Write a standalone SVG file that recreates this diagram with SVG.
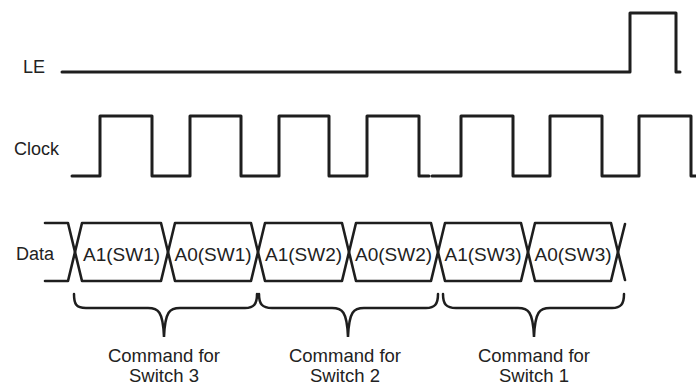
<svg xmlns="http://www.w3.org/2000/svg" width="696" height="385" viewBox="0 0 696 385">
<style>
.sig{fill:none;stroke:#1e1e1e;stroke-width:3;stroke-linejoin:round;stroke-linecap:round}
.dat{fill:none;stroke:#1e1e1e;stroke-width:2.6;stroke-linejoin:round;stroke-linecap:round}
.br{fill:none;stroke:#1e1e1e;stroke-width:2.5;stroke-linecap:round}
text{font-family:"Liberation Sans",Arial,sans-serif;fill:#222}
.lbl{font-size:18px}
.cell{font-size:19px;text-anchor:middle}
.cmd{font-size:18.5px;text-anchor:middle}
</style>
<rect width="696" height="385" fill="#fff"/>
<g id="le">
<text class="lbl" x="23" y="73">LE</text>
<path class="sig" d="M62,72 L630,72 L630,13 L676,13 L676,72 L680,72"/>
</g>
<g id="clock">
<text class="lbl" x="14" y="155">Clock</text>
<path class="sig" d="M72,176 L100,176 L100,116 L152,116 L152,176 L190,176 L190,116 L241,116 L241,176 L279,176 L279,116 L329,116 L329,176 L367,176 L367,116 L419,116 L419,176 L429,176"/>
<path class="sig" d="M432,176 L461,176 L461,116 L513,116 L513,176 L550,176 L550,116 L602,116 L602,176 L639,176 L639,116 L691,116 L691,176 L698,176"/>
</g>
<g id="data">
<text class="lbl" x="16" y="260">Data</text>
<g id="data-wave">
<path class="dat" d="M45,223 L68,223 L75,252 L68,281 L45,281"/>
<path class="dat" d="M75,252 L82,223 L161,223 L168,252 L161,281 L82,281 Z"/>
<path class="dat" d="M168,252 L175,223 L251,223 L258,252 L251,281 L175,281 Z"/>
<path class="dat" d="M258,252 L265,223 L342,223 L349,252 L342,281 L265,281 Z"/>
<path class="dat" d="M349,252 L356,223 L431,223 L438,252 L431,281 L356,281 Z"/>
<path class="dat" d="M438,252 L445,223 L521,223 L528,252 L521,281 L445,281 Z"/>
<path class="dat" d="M528,252 L535,223 L611,223 L618,252 L611,281 L535,281 Z"/>
<path class="dat" d="M618,252 L625,224 M618,252 L625,280"/>
</g>
<text class="cell" x="121.5" y="261">A1(SW1)</text>
<text class="cell" x="213" y="261">A0(SW1)</text>
<text class="cell" x="303.5" y="261">A1(SW2)</text>
<text class="cell" x="393.5" y="261">A0(SW2)</text>
<text class="cell" x="483" y="261">A1(SW3)</text>
<text class="cell" x="573" y="261">A0(SW3)</text>
</g>
<g id="connectors">
<path class="br" d="M74,294 C74,304 76,308 86,308 L148,308 C158,308 163,311 164,337 C165,311 170,308 180,308 L245,308 C254,308 257,304 257,294"/>
<path class="br" d="M259,294 C259,304 262,308 272,308 L332,308 C342,308 347,311 348,337 C349,311 354,308 364,308 L426,308 C435,308 438,304 438,294"/>
<path class="br" d="M443,294 C443,304 446,308 456,308 L518,308 C528,308 533,311 534,337 C535,311 540,308 550,308 L612,308 C621,308 624,304 624,294"/>
</g>
<g id="cmd3">
<text class="cmd" x="164" y="362">Command for</text>
<text class="cmd" x="164" y="382">Switch 3</text>
</g>
<g id="cmd2">
<text class="cmd" x="345" y="362">Command for</text>
<text class="cmd" x="345" y="382">Switch 2</text>
</g>
<g id="cmd1">
<text class="cmd" x="534" y="362">Command for</text>
<text class="cmd" x="534" y="382">Switch 1</text>
</g>
</svg>
